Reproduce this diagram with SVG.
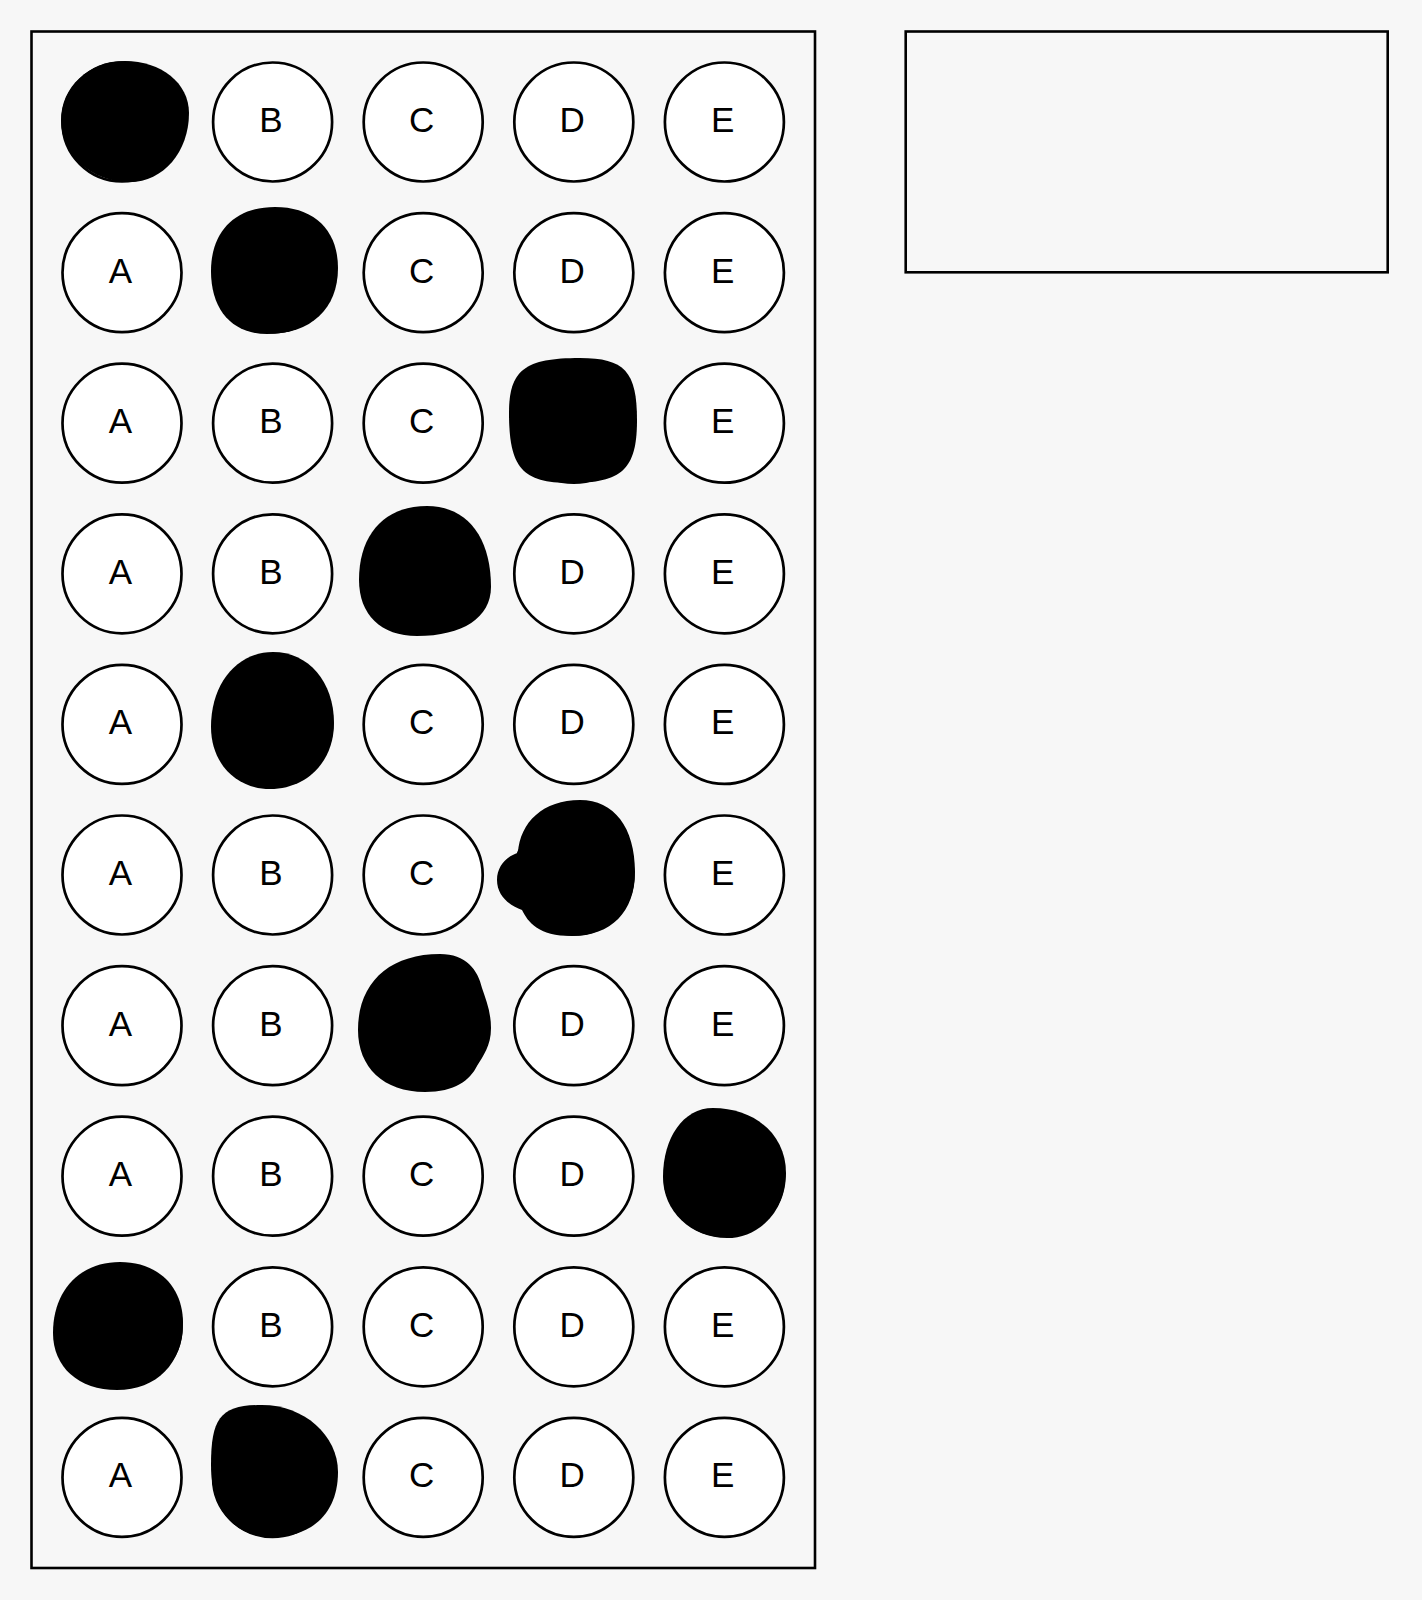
<svg xmlns="http://www.w3.org/2000/svg" width="1422" height="1600" viewBox="0 0 1422 1600">
<style>
.frame{fill:#f7f7f7;stroke:#000;stroke-width:2.6}
.bub{fill:#fff;stroke:#000;stroke-width:2.7}
.lbl{font-family:"Liberation Sans",Arial,sans-serif;font-size:35px;fill:#000;text-anchor:middle}
.mark{fill:#000;stroke:none}
</style>
<rect x="0" y="0" width="1422" height="1600" fill="#f7f7f7"/>
<g id="sheet"><rect class="frame" x="31.5" y="31.5" width="783.5" height="1536.5"/></g>
<g id="answer-box"><rect class="frame" x="905.7" y="31.5" width="482" height="240.8"/></g>
<g id="connectors"/>

<g id="row1">
<g id="q1-A"><circle class="bub" cx="122" cy="122" r="59.5"/><path class="mark" d="M125,61 C161,61 189,83 189,113 C189,152 163,182 130,182 C91,182 61,155 61,120 C61,87 89,61 125,61 Z"/></g>
<g id="q1-B"><circle class="bub" cx="272.6" cy="122" r="59.5"/><text class="lbl" x="271" y="132">B</text></g>
<g id="q1-C"><circle class="bub" cx="423.2" cy="122" r="59.5"/><text class="lbl" x="421.6" y="132">C</text></g>
<g id="q1-D"><circle class="bub" cx="573.8" cy="122" r="59.5"/><text class="lbl" x="572.2" y="132">D</text></g>
<g id="q1-E"><circle class="bub" cx="724.4" cy="122" r="59.5"/><text class="lbl" x="722.8" y="132">E</text></g>
</g>

<g id="row2">
<g id="q2-A"><circle class="bub" cx="122" cy="272.6" r="59.5"/><text class="lbl" x="120.4" y="282.6">A</text></g>
<g id="q2-B"><circle class="bub" cx="272.6" cy="272.6" r="59.5"/><path class="mark" d="M275,207 C314.1,207 338,230.2 338,268 C338,308.9 311,334 267,334 C232.3,334 211,310.1 211,271 C211,231.3 235.3,207 275,207 Z"/></g>
<g id="q2-C"><circle class="bub" cx="423.2" cy="272.6" r="59.5"/><text class="lbl" x="421.6" y="282.6">C</text></g>
<g id="q2-D"><circle class="bub" cx="573.8" cy="272.6" r="59.5"/><text class="lbl" x="572.2" y="282.6">D</text></g>
<g id="q2-E"><circle class="bub" cx="724.4" cy="272.6" r="59.5"/><text class="lbl" x="722.8" y="282.6">E</text></g>
</g>

<g id="row3">
<g id="q3-A"><circle class="bub" cx="122" cy="423.2" r="59.5"/><text class="lbl" x="120.4" y="433.2">A</text></g>
<g id="q3-B"><circle class="bub" cx="272.6" cy="423.2" r="59.5"/><text class="lbl" x="271" y="433.2">B</text></g>
<g id="q3-C"><circle class="bub" cx="423.2" cy="423.2" r="59.5"/><text class="lbl" x="421.6" y="433.2">C</text></g>
<g id="q3-D"><circle class="bub" cx="573.8" cy="423.2" r="59.5"/><path class="mark" d="M580,358 C624.5,358 637,371.6 637,420 C637,469.1 622.3,483 570,483 C522.4,483 509,467.6 509,413 C509,370.1 524.6,358 580,358 Z"/></g>
<g id="q3-E"><circle class="bub" cx="724.4" cy="423.2" r="59.5"/><text class="lbl" x="722.8" y="433.2">E</text></g>
</g>

<g id="row4">
<g id="q4-A"><circle class="bub" cx="122" cy="573.8" r="59.5"/><text class="lbl" x="120.4" y="583.8">A</text></g>
<g id="q4-B"><circle class="bub" cx="272.6" cy="573.8" r="59.5"/><text class="lbl" x="271" y="583.8">B</text></g>
<g id="q4-C"><circle class="bub" cx="423.2" cy="573.8" r="59.5"/><path class="mark" d="M427,506 C466.7,506 491,536.8 491,587 C491,617.4 462.9,636 417,636 C381,636 359,614.7 359,580 C359,534.1 384.8,506 427,506 Z"/></g>
<g id="q4-D"><circle class="bub" cx="573.8" cy="573.8" r="59.5"/><text class="lbl" x="572.2" y="583.8">D</text></g>
<g id="q4-E"><circle class="bub" cx="724.4" cy="573.8" r="59.5"/><text class="lbl" x="722.8" y="583.8">E</text></g>
</g>

<g id="row5">
<g id="q5-A"><circle class="bub" cx="122" cy="724.4" r="59.5"/><text class="lbl" x="120.4" y="734.4">A</text></g>
<g id="q5-B"><circle class="bub" cx="272.6" cy="724.4" r="59.5"/><path class="mark" d="M273,652 C308.4,652 334,681.8 334,723 C334,761.3 307.1,789 270,789 C235.8,789 211,763 211,727 C211,683.5 237,652 273,652 Z"/></g>
<g id="q5-C"><circle class="bub" cx="423.2" cy="724.4" r="59.5"/><text class="lbl" x="421.6" y="734.4">C</text></g>
<g id="q5-D"><circle class="bub" cx="573.8" cy="724.4" r="59.5"/><text class="lbl" x="572.2" y="734.4">D</text></g>
<g id="q5-E"><circle class="bub" cx="724.4" cy="724.4" r="59.5"/><text class="lbl" x="722.8" y="734.4">E</text></g>
</g>

<g id="row6">
<g id="q6-A"><circle class="bub" cx="122" cy="875" r="59.5"/><text class="lbl" x="120.4" y="885">A</text></g>
<g id="q6-B"><circle class="bub" cx="272.6" cy="875" r="59.5"/><text class="lbl" x="271" y="885">B</text></g>
<g id="q6-C"><circle class="bub" cx="423.2" cy="875" r="59.5"/><text class="lbl" x="421.6" y="885">C</text></g>
<g id="q6-D"><circle class="bub" cx="573.8" cy="875" r="59.5"/><path class="mark" d="M580,800 C614.1,800 635,827.4 635,872 C635,911.7 611.1,936 572,936 C538,936 528,922 522,910 C510,906 497,896 497,880 C497,866 507,856 518,853 C520,822 543.4,800 580,800 Z"/></g>
<g id="q6-E"><circle class="bub" cx="724.4" cy="875" r="59.5"/><text class="lbl" x="722.8" y="885">E</text></g>
</g>

<g id="row7">
<g id="q7-A"><circle class="bub" cx="122" cy="1025.6" r="59.5"/><text class="lbl" x="120.4" y="1035.6">A</text></g>
<g id="q7-B"><circle class="bub" cx="272.6" cy="1025.6" r="59.5"/><text class="lbl" x="271" y="1035.6">B</text></g>
<g id="q7-C"><circle class="bub" cx="423.2" cy="1025.6" r="59.5"/><path class="mark" d="M440,954 C466,954 478,970 482,988 C486,1000 491,1012 491,1028 C491,1046 483,1056 477,1066 C470,1080 455,1092 425,1092 C383.5,1092 358,1067.2 358,1030 C358,982.9 389.2,954 440,954 Z"/></g>
<g id="q7-D"><circle class="bub" cx="573.8" cy="1025.6" r="59.5"/><text class="lbl" x="572.2" y="1035.6">D</text></g>
<g id="q7-E"><circle class="bub" cx="724.4" cy="1025.6" r="59.5"/><text class="lbl" x="722.8" y="1035.6">E</text></g>
</g>

<g id="row8">
<g id="q8-A"><circle class="bub" cx="122" cy="1176.2" r="59.5"/><text class="lbl" x="120.4" y="1186.2">A</text></g>
<g id="q8-B"><circle class="bub" cx="272.6" cy="1176.2" r="59.5"/><text class="lbl" x="271" y="1186.2">B</text></g>
<g id="q8-C"><circle class="bub" cx="423.2" cy="1176.2" r="59.5"/><text class="lbl" x="421.6" y="1186.2">C</text></g>
<g id="q8-D"><circle class="bub" cx="573.8" cy="1176.2" r="59.5"/><text class="lbl" x="572.2" y="1186.2">D</text></g>
<g id="q8-E"><circle class="bub" cx="724.4" cy="1176.2" r="59.5"/><path class="mark" d="M713,1108 C754,1108 786,1134 786,1173 C786,1210 760,1238 727,1238 C691,1238 663,1211 663,1177 C663,1138 683,1108 713,1108 Z"/></g>
</g>

<g id="row9">
<g id="q9-A"><circle class="bub" cx="122" cy="1326.8" r="59.5"/><path class="mark" d="M120,1262 C157.8,1262 183,1286.4 183,1323 C183,1363.2 156.6,1390 117,1390 C78.6,1390 53,1367.2 53,1333 C53,1290.4 79.8,1262 120,1262 Z"/></g>
<g id="q9-B"><circle class="bub" cx="272.6" cy="1326.8" r="59.5"/><text class="lbl" x="271" y="1336.8">B</text></g>
<g id="q9-C"><circle class="bub" cx="423.2" cy="1326.8" r="59.5"/><text class="lbl" x="421.6" y="1336.8">C</text></g>
<g id="q9-D"><circle class="bub" cx="573.8" cy="1326.8" r="59.5"/><text class="lbl" x="572.2" y="1336.8">D</text></g>
<g id="q9-E"><circle class="bub" cx="724.4" cy="1326.8" r="59.5"/><text class="lbl" x="722.8" y="1336.8">E</text></g>
</g>

<g id="row10">
<g id="q10-A"><circle class="bub" cx="122" cy="1477.4" r="59.5"/><text class="lbl" x="120.4" y="1487.4">A</text></g>
<g id="q10-B"><circle class="bub" cx="272.6" cy="1477.4" r="59.5"/><path class="mark" d="M262,1405 C303.8,1405 338,1435.2 338,1472 C338,1512.3 312.9,1537 272,1537 C234.2,1537 211,1509.6 211,1465 C211,1417 221.2,1405 262,1405 Z"/></g>
<g id="q10-C"><circle class="bub" cx="423.2" cy="1477.4" r="59.5"/><text class="lbl" x="421.6" y="1487.4">C</text></g>
<g id="q10-D"><circle class="bub" cx="573.8" cy="1477.4" r="59.5"/><text class="lbl" x="572.2" y="1487.4">D</text></g>
<g id="q10-E"><circle class="bub" cx="724.4" cy="1477.4" r="59.5"/><text class="lbl" x="722.8" y="1487.4">E</text></g>
</g>
</svg>
